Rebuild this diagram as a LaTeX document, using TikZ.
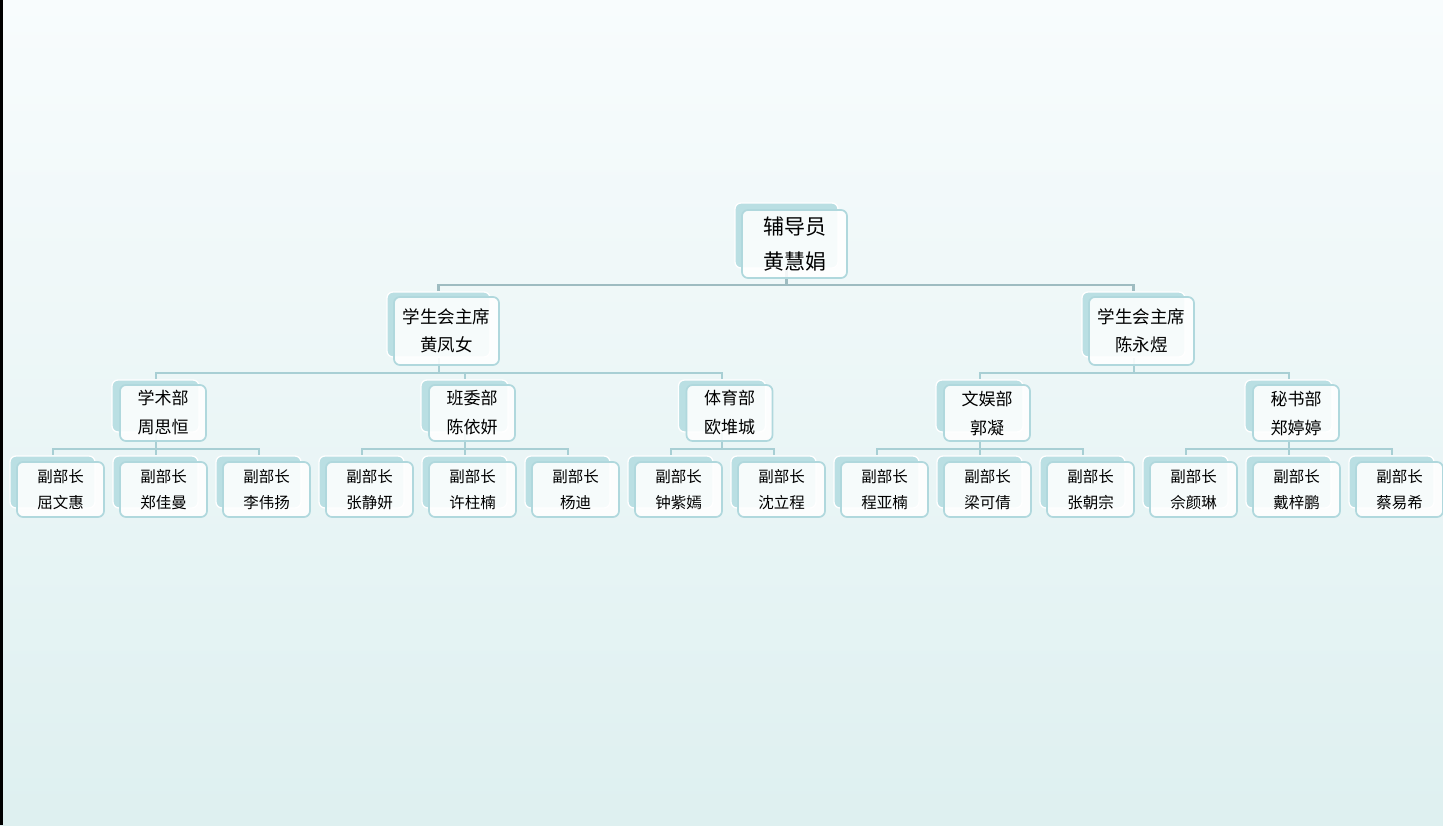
\documentclass[tikz,border=0pt]{standalone}
\usepackage{fontspec}
\setmainfont{Noto Sans CJK SC}
\newfontfamily\cjk{Noto Sans CJK SC}
\pgfdeclarelayer{bg}
\pgfdeclarelayer{lines}
\pgfsetlayers{bg,lines,main}
\definecolor{bgtop}{RGB}{248,252,253}
\definecolor{bgbot}{RGB}{222,240,240}
\definecolor{cardteal}{RGB}{186,223,227}
\definecolor{cardedge}{RGB}{176,216,221}
\definecolor{lineA}{RGB}{158,188,193}
\definecolor{lineB}{RGB}{168,207,212}
\tikzset{
  backcard/.style={draw=white, line width=1.3pt, fill=cardteal, rounded corners=6pt, inner sep=0pt},
  frontcard/.style={draw=cardedge, line width=1.7pt, fill=white, fill opacity=0.88, text opacity=1,
    rounded corners=6pt, inner sep=0pt, align=center, text=black},
  bA/.style={backcard, minimum width=103pt, minimum height=65pt},
  fA/.style={frontcard, minimum width=105pt, minimum height=68pt, font=\cjk\fontsize{21}{35}\selectfont},
  bB/.style={backcard, minimum width=103pt, minimum height=65pt},
  fB/.style={frontcard, minimum width=105pt, minimum height=68pt, font=\cjk\fontsize{17.5}{28}\selectfont},
  bC/.style={backcard, minimum width=87pt, minimum height=52pt},
  fC/.style={frontcard, minimum width=86pt, minimum height=56pt, font=\cjk\fontsize{17}{29}\selectfont},
  bD/.style={backcard, minimum width=85pt, minimum height=52pt},
  fD/.style={frontcard, minimum width=87pt, minimum height=55pt, font=\cjk\fontsize{15.5}{26}\selectfont},
  connA/.style={draw=lineA, line width=2.1pt},
  connB/.style={draw=lineB, line width=2pt},
}
\newcommand\mkcard[8]{%
  \node[#4] (#1) at (#2,#3) {};
  \node[#5] (#1f) at ([shift={(#6,#7)}]#1.center) {#8};
}
\begin{document}
\begin{tikzpicture}[x=1pt,y=-1pt]
\useasboundingbox (0,0) rectangle (1443,825);
\begin{pgfonlayer}{bg}
  \shade[top color=bgtop, bottom color=bgbot] (0,0) rectangle (1443,825);
  \fill[black] (0,0) rectangle (3,825);
\end{pgfonlayer}
% root
\mkcard{root}{786.5}{235.5}{bA}{fA}{8}{8.5}{辅导员\\黄慧娟}
% level 2
\mkcard{p1}{438.5}{324.5}{bB}{fB}{8}{6.5}{学生会主席\\黄凤女}
\mkcard{p2}{1133.5}{324.5}{bB}{fB}{8}{6.5}{学生会主席\\陈永煜}
% level 3
\mkcard{d1}{155.5}{406}{bC}{fC}{7.5}{7}{学术部\\周思恒}
\mkcard{d2}{464.5}{406}{bC}{fC}{7.5}{7}{班委部\\陈依妍}
\mkcard{d3}{722}{406}{bC}{fC}{7.5}{7}{体育部\\欧堆城}
\mkcard{d4}{979.5}{406}{bC}{fC}{7.5}{7}{文娱部\\郭凝}
\mkcard{d5}{1288.5}{406}{bC}{fC}{7.5}{7}{秘书部\\郑婷婷}
% level 4
\foreach \i/\nm in {1/屈文惠,2/郑佳曼,3/李伟扬,4/张静妍,5/许柱楠,6/杨迪,7/钟紫嫣,8/沈立程,9/程亚楠,10/梁可倩,11/张朝宗,12/佘颜琳,13/戴梓鹏,14/蔡易希}{
  \pgfmathsetmacro\xx{52.5+103*(\i-1)}
  \mkcard{v\i}{\xx}{482}{bD}{fD}{8}{7.5}{副部长\\\nm}
}
% connectors
\begin{pgfonlayer}{lines}
  \foreach \c in {p1,p2}{\draw[connA] (root.south) -- ++(0,16) -| (\c.north);}
  \foreach \c in {d1,d2,d3}{\draw[connB] (p1.south) -- ++(0,15) -| (\c.north);}
  \foreach \c in {d4,d5}{\draw[connB] (p2.south) -- ++(0,15) -| (\c.north);}
  \foreach \c in {v1,v2,v3}{\draw[connB] (d1.south) -- ++(0,16) -| (\c.north);}
  \foreach \c in {v4,v5,v6}{\draw[connB] (d2.south) -- ++(0,16) -| (\c.north);}
  \foreach \c in {v7,v8}{\draw[connB] (d3.south) -- ++(0,16) -| (\c.north);}
  \foreach \c in {v9,v10,v11}{\draw[connB] (d4.south) -- ++(0,16) -| (\c.north);}
  \foreach \c in {v12,v13,v14}{\draw[connB] (d5.south) -- ++(0,16) -| (\c.north);}
\end{pgfonlayer}
\end{tikzpicture}
\end{document}
